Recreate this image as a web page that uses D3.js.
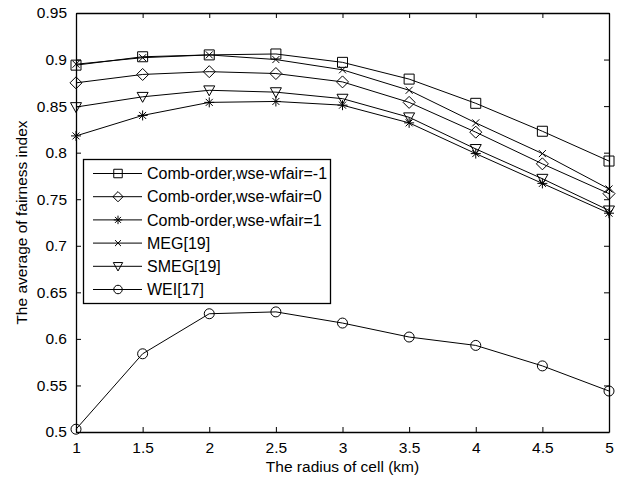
<!DOCTYPE html>
<html lang="en">
<head>
    <meta charset="UTF-8">
    <title>Fairness index vs cell radius</title>
    <style>
        body { margin: 0; background: #fff; }
        svg text { font-family: Arial, "Liberation Sans", sans-serif; font-size: 15.5px; fill: #000; }
        .series { fill: none; stroke: #000; stroke-width: 1px; }
        .mark { fill: none; stroke: #000; stroke-width: 1px; }
        svg text.legend-label { font-size: 16px; }
    </style>
</head>
<body>
    <script src="https://d3js.org/d3.v7.min.js"></script>
    <script>
        // radius of cell (km)
        const radius = [1, 1.5, 2, 2.5, 3, 3.5, 4, 4.5, 5];

        const combMinus1 = [0.894, 0.903, 0.905, 0.906, 0.897, 0.879, 0.853, 0.823, 0.791];
        const combZero   = [0.875, 0.884, 0.887, 0.885, 0.876, 0.854, 0.822, 0.788, 0.756];
        const combOne    = [0.818, 0.840, 0.854, 0.855, 0.851, 0.832, 0.799, 0.767, 0.735];
        const meg        = [0.895, 0.902, 0.905, 0.900, 0.889, 0.867, 0.832, 0.799, 0.761];
        const smeg       = [0.849, 0.860, 0.867, 0.865, 0.858, 0.838, 0.804, 0.772, 0.738];
        const wei        = [0.503, 0.584, 0.627, 0.629, 0.617, 0.602, 0.593, 0.571, 0.544];

        const seriesNames = ["Comb-order,wse-wfair=-1", "Comb-order,wse-wfair=0", "Comb-order,wse-wfair=1",
                             "MEG[19]", "SMEG[19]", "WEI[17]"];
        const seriesSymbols = ["square", "diamond", "star", "cross", "triangle", "circle"];
        const seriesValues = [combMinus1, combZero, combOne, meg, smeg, wei];

        const xTicks = [1, 1.5, 2, 2.5, 3, 3.5, 4, 4.5, 5];
        const yTicks = [0.5, 0.55, 0.6, 0.65, 0.7, 0.75, 0.8, 0.85, 0.9, 0.95];

        const width = 623, height = 478;
        const plotLeft = 76, plotRight = 609, plotTop = 13, plotBottom = 432;

        const svg = d3.select("body").append("svg")
            .attr("width", width)
            .attr("height", height);

        const x = d3.scaleLinear().domain([1, 5]).range([plotLeft, plotRight]);
        const y = d3.scaleLinear().domain([0.5, 0.95]).range([plotBottom, plotTop]);

        // marker paths, centred on 0,0
        function marker(sym, s) {
            s = s || 1;
            switch (sym) {
                case "square": { const h = 5 * s; return `M${-h},${-h}H${h}V${h}H${-h}Z`; }
                case "diamond": { const h = 6 * s; return `M0,${-h}L${h},0L0,${h}L${-h},0Z`; }
                case "circle": { const r = 5 * s; return `M${r},0A${r},${r} 0 1,1 ${-r},0A${r},${r} 0 1,1 ${r},0Z`; }
                case "triangle": { const h = 5.5 * s; return `M${-h},${-h * 0.8}H${h}L0,${h}Z`; }
                case "cross": { const h = 3.5 * s; return `M${-h},${-h}L${h},${h}M${-h},${h}L${h},${-h}`; }
                case "star": { const h = 5 * s, d = 3.5 * s;
                    return `M0,${-h}V${h}M${-h},0H${h}M${-d},${-d}L${d},${d}M${-d},${d}L${d},${-d}`; }
            }
        }

        // axes box with inward ticks on all sides
        const xAxisB = d3.axisBottom(x).tickValues(xTicks).tickSizeInner(-5).tickSizeOuter(0).tickFormat(d3.format("")).tickPadding(10);
        const xAxisT = d3.axisTop(x).tickValues(xTicks).tickSizeInner(-5).tickSizeOuter(0).tickFormat("");
        const yAxisL = d3.axisLeft(y).tickValues(yTicks).tickSizeInner(-5).tickSizeOuter(0).tickFormat(d3.format("")).tickPadding(9);
        const yAxisR = d3.axisRight(y).tickValues(yTicks).tickSizeInner(-5).tickSizeOuter(0).tickFormat("");

        const gx = svg.append("g").attr("transform", `translate(0,${plotBottom})`).call(xAxisB);
        svg.append("g").attr("transform", `translate(0,${plotTop})`).call(xAxisT);
        svg.append("g").attr("transform", `translate(${plotLeft},0)`).call(yAxisL);
        svg.append("g").attr("transform", `translate(${plotRight},0)`).call(yAxisR);

        svg.selectAll(".domain").attr("stroke", "#000").attr("stroke-width", 1.3);
        svg.selectAll(".tick line").attr("stroke", "#000");
        gx.selectAll(".tick text").attr("dy", "0.71em");

        // axis titles
        svg.append("text")
            .attr("x", (plotLeft + plotRight) / 2)
            .attr("y", 472)
            .attr("text-anchor", "middle")
            .text("The radius of cell (km)");

        svg.append("text")
            .attr("transform", `translate(27,${(plotTop + plotBottom) / 2}) rotate(-90)`)
            .attr("text-anchor", "middle")
            .text("The average of fairness index");

        // series
        const line = d3.line().x((d, i) => x(radius[i])).y(d => y(d));

        seriesValues.forEach((vals, k) => {
            svg.append("path").attr("class", "series").attr("d", line(vals));
            svg.append("g").selectAll("path")
                .data(vals)
                .enter().append("path")
                .attr("class", "mark")
                .attr("transform", (d, i) => `translate(${x(radius[i])},${y(d)})`)
                .attr("d", marker(seriesSymbols[k]));
        });

        // legend
        const lg = svg.append("g");
        lg.append("rect")
            .attr("x", 83.5).attr("y", 159.5)
            .attr("width", 247).attr("height", 144)
            .attr("fill", "#fff").attr("stroke", "#000").attr("stroke-width", 1.3);

        seriesNames.forEach((name, k) => {
            const cy = 173.5 + k * 23.2;
            lg.append("line").attr("x1", 93).attr("x2", 142).attr("y1", cy).attr("y2", cy)
                .attr("stroke", "#000");
            lg.append("path").attr("class", "mark")
                .attr("transform", `translate(118,${cy})`)
                .attr("d", marker(seriesSymbols[k], 0.85));
            lg.append("text").attr("class", "legend-label")
                .attr("x", 147).attr("y", cy).attr("dy", "0.36em").text(name);
        });
    </script>
</body>
</html>
